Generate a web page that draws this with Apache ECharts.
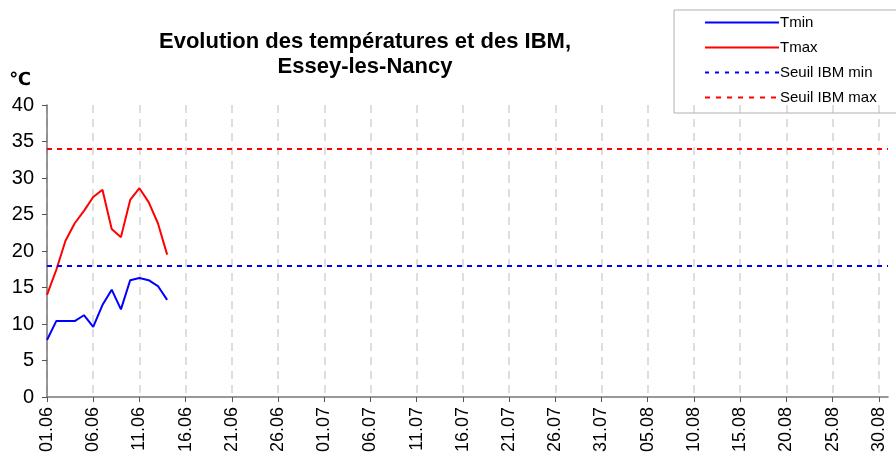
<!DOCTYPE html>
<html>
<head>
<meta charset="utf-8">
<script src="https://cdn.jsdelivr.net/npm/echarts@6/dist/echarts.min.js"></script>
<style>
  html, body { margin: 0; padding: 0; background: #fff; }
  #chart { width: 896px; height: 466px; }
</style>
</head>
<body>
<div id="chart"></div>
<script>
  // jours du 01.06 au 31.08
  const months = [['06', 30], ['07', 31], ['08', 31]]
  const days = []
  months.forEach(([m, n]) => {
    for (let d = 1; d <= n; d++) days.push((d < 10 ? '0' + d : '' + d) + '.' + m)
  })

  const tmin = [7.8, 10.4, 10.4, 10.4, 11.2, 9.6, 12.6, 14.7, 12.0, 16.0, 16.3, 16.0, 15.2, 13.3]
  const tmax = [14.0, 17.4, 21.4, 23.8, 25.5, 27.4, 28.4, 23.0, 21.9, 27.0, 28.6, 26.7, 23.8, 19.5]
  const seuilMin = 18
  const seuilMax = 34

  const font = 'Liberation Sans, Arial, sans-serif'
  const chart = echarts.init(document.getElementById('chart'))

  chart.setOption({
    animation: false,
    textStyle: { fontFamily: font },
    title: {
      text: 'Evolution des températures et des IBM,\nEssey-les-Nancy',
      left: 360,
      top: 24,
      textAlign: 'center',
      textStyle: { fontSize: 22, fontWeight: 'bold', color: '#000', lineHeight: 25, fontFamily: font }
    },
    legend: {
      orient: 'vertical',
      left: 674,
      top: 10,
      padding: [5, 40, 8, 30],
      itemWidth: 74,
      itemHeight: 15,
      itemGap: 10,
      borderColor: '#b0b0b0',
      borderWidth: 1,
      itemStyle: { opacity: 0 },
      textStyle: { fontSize: 15, color: '#000', padding: [0, 0, 0, -4] },
      data: ['Tmin', 'Tmax', 'Seuil IBM min', 'Seuil IBM max']
    },
    grid: { left: 47, right: 8, top: 105, bottom: 69 },
    xAxis: {
      type: 'category',
      data: days,
      boundaryGap: false,
      axisLine: { lineStyle: { color: '#777', width: 1.5 } },
      axisTick: { interval: 4, length: 5, lineStyle: { color: '#555' } },
      axisLabel: { interval: 4, rotate: 90, fontSize: 18, color: '#000', margin: 10 },
      splitLine: { show: true, interval: 4, lineStyle: { color: '#d4d4d4', type: [8, 6], width: 1.5 } }
    },
    yAxis: {
      type: 'value',
      min: 0,
      max: 40,
      interval: 5,
      name: '℃',
      nameGap: 16,
      nameTextStyle: { fontSize: 18, fontWeight: 'bold', color: '#000', align: 'right', padding: [0, 16, 0, 0], fontFamily: 'DejaVu Sans' },
      axisLine: { show: true, lineStyle: { color: '#777', width: 1.5 } },
      axisTick: { show: true, length: 5, lineStyle: { color: '#555' } },
      axisLabel: { fontSize: 20, color: '#000', margin: 13 },
      splitLine: { show: false }
    },
    series: [
      {
        name: 'Tmin', type: 'line', data: tmin, symbol: 'none',
        color: '#0000ff', lineStyle: { color: '#0000ff', width: 2 }
      },
      {
        name: 'Tmax', type: 'line', data: tmax, symbol: 'none',
        color: '#ff0000', lineStyle: { color: '#ff0000', width: 2 }
      },
      {
        name: 'Seuil IBM min', type: 'line', data: [], symbol: 'none',
        color: '#0000ff', lineStyle: { color: '#0000ff', width: 2.5, type: [4, 6] },
        markLine: {
          silent: true, symbol: 'none', label: { show: false },
          lineStyle: { color: '#0000ff', width: 2, type: [5, 5] },
          data: [{ yAxis: seuilMin }]
        }
      },
      {
        name: 'Seuil IBM max', type: 'line', data: [], symbol: 'none',
        color: '#ff0000', lineStyle: { color: '#ff0000', width: 3, type: [5, 6] },
        markLine: {
          silent: true, symbol: 'none', label: { show: false },
          lineStyle: { color: '#ff0000', width: 2, type: [5, 5] },
          data: [{ yAxis: seuilMax }]
        }
      }
    ]
  })
</script>
</body>
</html>
